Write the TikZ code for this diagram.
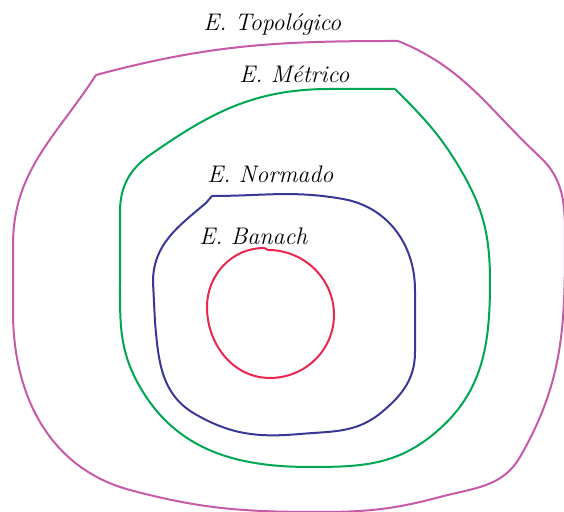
\documentclass[tikz,border=0pt]{standalone}
\usepackage{fontspec}
\usepackage[svgnames]{xcolor}
\definecolor{topocol}{RGB}{198,90,168}
\definecolor{metcol}{RGB}{0,166,81}
\definecolor{normcol}{RGB}{58,56,150}
\definecolor{banachcol}{RGB}{235,38,80}
\tikzset{conjunto/.style={line width=1pt, line join=round}}
\tikzset{etiqueta/.style={font=\large\itshape, inner sep=0pt, anchor=base west}}

\begin{document}
\begin{tikzpicture}[x=0.5pt,y=0.5pt]
  \useasboundingbox (0,0) rectangle (564,512);

  % E. Topologico
  \draw[conjunto,topocol] (96,437) to[out=15,in=180] (398,471)
    to[out=-22,in=137] (540,355) to[out=-43,in=90] (565,275)
    to[out=-90,in=60] (520,55) to[out=-120,in=15] (440,15)
    to[out=-165,in=0] (320,0) to[out=180,in=-15] (130,22)
    to[out=165,in=-90] (13,200)
    -- (13,267) to[out=90,in=-123] (96,437);

  % E. Metrico
  \draw[conjunto,metcol] (395,423) to[out=-45,in=120] (462,340)
    to[out=-60,in=90] (490,230) to[out=-90,in=40] (435,79)
    to[out=-140,in=0] (310,45) to[out=180,in=-60] (140,125)
    to[out=120,in=-90] (120,230) -- (120,300)
    to[out=90,in=-145] (150,357) to[out=35,in=180] (330,423)
    -- (395,423);

  % E. Normado
  \draw[conjunto,normcol] (212,316) to[out=0,in=170] (343,313)
    to[out=-10,in=90] (415,222) -- (415,160)
    to[out=-90,in=40] (382,100) to[out=-140,in=5] (300,78)
    to[out=185,in=-30] (195,98) to[out=150,in=-85] (155,190)
    -- (153,230) to[out=90,in=-140] (206,309) -- (212,316);

  % E. Banach
  \draw[conjunto,banachcol] (268,262) to[out=0,in=90] (334,197)
    to[out=-90,in=0] (270,134) to[out=180,in=-90] (207,205)
    to[out=90,in=180] (264,264) -- (268,262);

  % etiquetas
  \node[etiqueta] (topo) at (203,481) {E. Topológico};
  \node[etiqueta] (metrico) at (239,429) {E. Métrico};
  \node[etiqueta] (normado) at (207,329) {E. Normado};
  \node[etiqueta] (banach) at (199,267) {E. Banach};
\end{tikzpicture}
\end{document}
